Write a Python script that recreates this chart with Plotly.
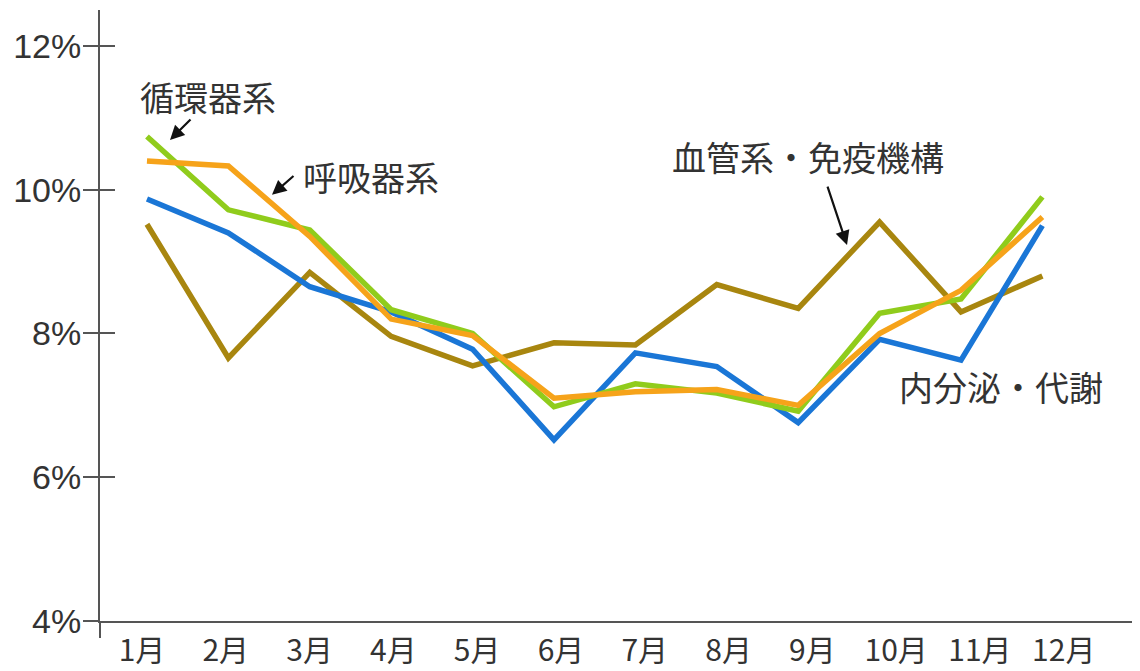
import plotly.graph_objects as go

months = ["1月", "2月", "3月", "4月", "5月", "6月", "7月", "8月", "9月", "10月", "11月", "12月"]
y_tickvals = [4, 6, 8, 10, 12]
y_ticktext = ["4%", "6%", "8%", "10%", "12%"]

circulatory = [10.74, 9.72, 9.44, 8.33, 8.0, 6.98, 7.3, 7.17, 6.92, 8.28, 8.48, 9.9]      # 循環器系
respiratory = [10.4, 10.33, 9.35, 8.2, 7.97, 7.1, 7.19, 7.22, 7.0, 8.0, 8.6, 9.62]       # 呼吸器系
endocrine = [9.87, 9.4, 8.65, 8.3, 7.78, 6.52, 7.73, 7.54, 6.76, 7.92, 7.63, 9.5]        # 内分泌・代謝
vascular = [9.52, 7.66, 8.85, 7.96, 7.55, 7.87, 7.84, 8.68, 8.35, 9.55, 8.3, 8.8]        # 血管系・免疫機構

series = [
    ("血管系・免疫機構", vascular, "#a8860f"),
    ("内分泌・代謝", endocrine, "#1a76d6"),
    ("循環器系", circulatory, "#90cc1c"),
    ("呼吸器系", respiratory, "#f6a31a"),
]

AX = "#555555"
JP = "Noto Sans CJK JP"
LAT = "Liberation Sans, Arial, sans-serif"

fig = go.Figure()
idx = list(range(len(months)))
for name, vals, col in series:
    fig.add_trace(go.Scatter(x=idx, y=vals, mode="lines", name=name,
                             line=dict(color=col, width=5.5), showlegend=False))

# invisible helper trace for month label axis
fig.add_trace(go.Scatter(x=idx, y=[None] * len(idx), xaxis="x2", yaxis="y",
                         mode="lines", showlegend=False, hoverinfo="skip"))
# helper for inner tick axis
fig.add_trace(go.Scatter(x=idx, y=[None] * len(idx), xaxis="x", yaxis="y2",
                         mode="lines", showlegend=False, hoverinfo="skip"))

# page body has an 8px margin, so the figure is sized to fit the window
fig.update_layout(
    width=1132, height=663,
    margin=dict(l=92, r=0, t=2, b=50, autoexpand=False),
    paper_bgcolor="white", plot_bgcolor="white",
    xaxis=dict(range=[-0.577, 12.199], showgrid=False, zeroline=False,
               showline=False, showticklabels=False, ticks="", automargin=False),
    xaxis2=dict(range=[-0.501, 11.91], overlaying="x", side="bottom",
                anchor="y", showgrid=False, zeroline=False, showline=True,
                linecolor=AX, linewidth=2, automargin=False,
                tickmode="array", tickvals=idx, ticktext=months, ticks="",
                ticklabelstandoff=2,
                tickfont=dict(family=JP, size=30, color="#333333")),
    yaxis=dict(range=[4, 12.5], tickmode="array", tickvals=y_tickvals,
               ticktext=y_ticktext, ticks="outside", ticklen=15, tickwidth=2,
               tickcolor=AX, showline=True, linecolor=AX, linewidth=2,
               showgrid=False, zeroline=False, automargin=False,
               ticklabelstandoff=-5,
               tickfont=dict(family=LAT, size=34, color="#333333")),
    yaxis2=dict(range=[4, 12.5], overlaying="y", anchor="x", side="left",
                tickmode="array", tickvals=y_tickvals, ticks="inside",
                ticklen=15, tickwidth=2, tickcolor=AX, showticklabels=False,
                showline=False, showgrid=False, zeroline=False, automargin=False),
)

# y axis line extends a little below the baseline
fig.add_shape(type="line", xref="paper", yref="paper", x0=0, x1=0, y0=-0.028, y1=0,
              line=dict(color=AX, width=2))

labels = [
    ("循環器系", 0.75, 11.29),
    ("呼吸器系", 2.75, 10.18),
    ("血管系・免疫機構", 8.12, 10.456),
    ("内分泌・代謝", 10.49, 7.257),
]
for txt, lx, ly in labels:
    fig.add_annotation(x=lx, y=ly, xref="x", yref="y", text=txt, showarrow=False,
                       font=dict(family=JP, size=34, color="#333333"))

arrows = [
    (0.283, 10.692, 22, -22),
    (1.536, 9.93, 23, -20),
    (8.6, 9.23, -20, -60),
]
for hx, hy, axp, ayp in arrows:
    fig.add_annotation(x=hx, y=hy, xref="x", yref="y", text="", showarrow=True,
                       ax=axp, ay=ayp, arrowhead=2, arrowsize=1.3, arrowwidth=2.2,
                       arrowcolor="#111111")

fig.write_html("out.html")
